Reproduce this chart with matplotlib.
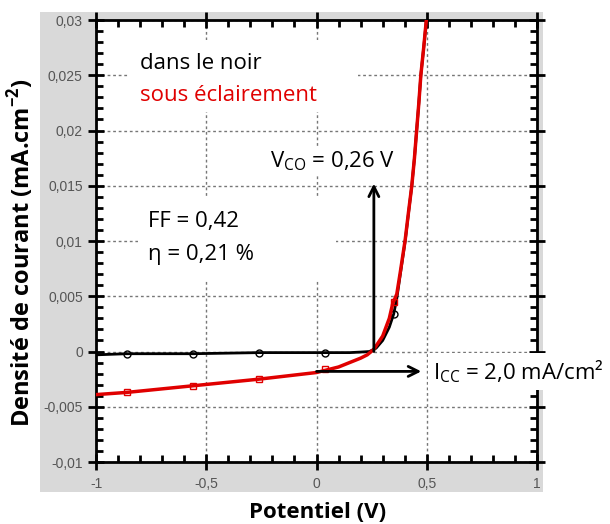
import matplotlib
matplotlib.use("Agg")
import matplotlib.pyplot as plt
from matplotlib.patches import Rectangle
from matplotlib.ticker import MultipleLocator, FuncFormatter

# J(V) curves
v_dark = [-1.0, -0.86, -0.56, -0.26, 0.04, 0.15, 0.20, 0.24, 0.27, 0.30, 0.33, 0.35,
          0.364, 0.38, 0.402, 0.417, 0.432, 0.444, 0.454, 0.464, 0.473, 0.486, 0.498]
j_dark = [-0.0003, -0.0002, -0.0002, -0.0001, -0.0001, -0.0001, -0.00005, 0.0, 0.0003,
          0.0010, 0.0022, 0.0034, 0.0048, 0.0070, 0.0100, 0.0125, 0.015, 0.0175, 0.020,
          0.0225, 0.025, 0.0275, 0.030]
v_light = [-1.0, -0.86, -0.56, -0.26, 0.0, 0.04, 0.10, 0.15, 0.20, 0.23, 0.26, 0.30,
           0.33, 0.345, 0.364, 0.38, 0.402, 0.417, 0.432, 0.444, 0.454, 0.464, 0.473,
           0.486, 0.498]
j_light = [-0.0039, -0.0037, -0.0031, -0.0025, -0.0019, -0.0017, -0.0014, -0.0010,
           -0.0006, -0.0003, 0.0002, 0.0014, 0.0030, 0.0043, 0.0052, 0.0072, 0.0101,
           0.0126, 0.015, 0.0175, 0.020, 0.0225, 0.025, 0.0275, 0.030]
v_marks = [-0.86, -0.56, -0.26, 0.04, 0.35]
j_dark_marks = [-0.0002, -0.0002, -0.0001, -0.0001, 0.0034]
j_light_marks = [-0.0037, -0.0031, -0.0025, -0.0016, 0.0045]

voc = 0.26
jsc = -0.0018

fig = plt.figure(figsize=(6.1, 5.24), dpi=100)
fig.patches.append(Rectangle((0.0656, 0.0611), 0.8246, 0.916, transform=fig.transFigure,
                             facecolor="#d9d9d9", edgecolor="none", zorder=-5))
ax = fig.add_axes([0.1574, 0.1183, 0.7230, 0.8435])
ax.set_facecolor("white")

ax.set_xlim(-1, 1)
ax.set_ylim(-0.01, 0.03)
ax.xaxis.set_major_locator(MultipleLocator(0.5))
ax.xaxis.set_minor_locator(MultipleLocator(0.1))
ax.yaxis.set_major_locator(MultipleLocator(0.005))
ax.yaxis.set_minor_locator(MultipleLocator(0.001))

def fr(x, pos):
    s = f"{x:.3f}".rstrip("0").rstrip(".")
    if s in ("-0", "0"):
        s = "0"
    return s.replace(".", ",")

ax.xaxis.set_major_formatter(FuncFormatter(fr))
ax.yaxis.set_major_formatter(FuncFormatter(fr))
ax.tick_params(which="major", direction="inout", length=12, width=2,
               top=True, right=True, labelsize=10, labelcolor="#555555",
               labeltop=False, labelright=False)
ax.tick_params(which="minor", direction="in", length=5, width=2, top=True, right=True)
for lab in ax.get_xticklabels() + ax.get_yticklabels():
    lab.set_family("Liberation Sans")
ax.tick_params(axis="x", pad=5)
for sp in ax.spines.values():
    sp.set_linewidth(2)

ax.grid(True, which="major", color="#777777", linestyle=(0, (2, 2)), linewidth=1, zorder=0)
ax.set_axisbelow(True)

ax.plot(v_dark, j_dark, color="black", lw=2, zorder=3)
ax.plot(v_marks, j_dark_marks, "o", mfc="none", mec="black", ms=5, mew=1, zorder=3)
ax.plot(v_light, j_light, color="#e00000", lw=2.5, zorder=4)
ax.plot(v_marks, j_light_marks, "s", mfc="none", mec="#e00000", ms=5, mew=1, zorder=4)

# white boxes behind the text blocks
ax.add_patch(Rectangle((-0.855, 0.0217), 1.045, 0.0065, facecolor="white",
                       edgecolor="none", zorder=1))
ax.add_patch(Rectangle((-0.81, 0.0065), 0.9, 0.0075, facecolor="white",
                       edgecolor="none", zorder=1))

tf = "Open Sans"
ax.text(-0.8, 0.0261, "dans le noir", fontsize=16, family=tf, va="center", zorder=5)
ax.text(-0.8, 0.0232, "sous éclairement", fontsize=16, family=tf, color="#e00000",
        va="center", zorder=5)
ax.text(-0.765, 0.0118, "FF = 0,42", fontsize=16, family=tf, va="center", zorder=5)
ax.text(-0.765, 0.0088, "η = 0,21 %", fontsize=16, family=tf, va="center", zorder=5)
ax.text(-0.21, 0.0172, r"V$_{\mathregular{CO}}$ = 0,26 V", fontsize=16, family=tf,
        va="center", zorder=5,
        bbox=dict(facecolor="white", edgecolor="none", pad=2))
ax.text(0.53, jsc, r"I$_{\mathregular{CC}}$ = 2,0 mA/cm²", fontsize=16, family=tf,
        va="center", zorder=5, clip_on=False,
        bbox=dict(facecolor="white", edgecolor="none", pad=4))

ax.annotate("", xy=(voc, 0.0152), xytext=(voc, 0.0),
            arrowprops=dict(arrowstyle="->", lw=2, color="black", mutation_scale=18,
                            shrinkA=0, shrinkB=0), zorder=5)
ax.annotate("", xy=(0.475, jsc), xytext=(0.0, jsc),
            arrowprops=dict(arrowstyle="->", lw=2, color="black", mutation_scale=18,
                            shrinkA=0, shrinkB=0), zorder=5)

fig.text(0.033, 0.519, "Densité de courant (mA.cm$^{\\mathregular{-2}}$)", rotation=90,
         fontsize=17, fontweight="bold", family=tf, ha="center", va="center")
fig.text(0.52, 0.022, "Potentiel (V)", fontsize=16, fontweight="bold", family=tf,
         ha="center", va="center")

fig.savefig("out.png", dpi=100)
